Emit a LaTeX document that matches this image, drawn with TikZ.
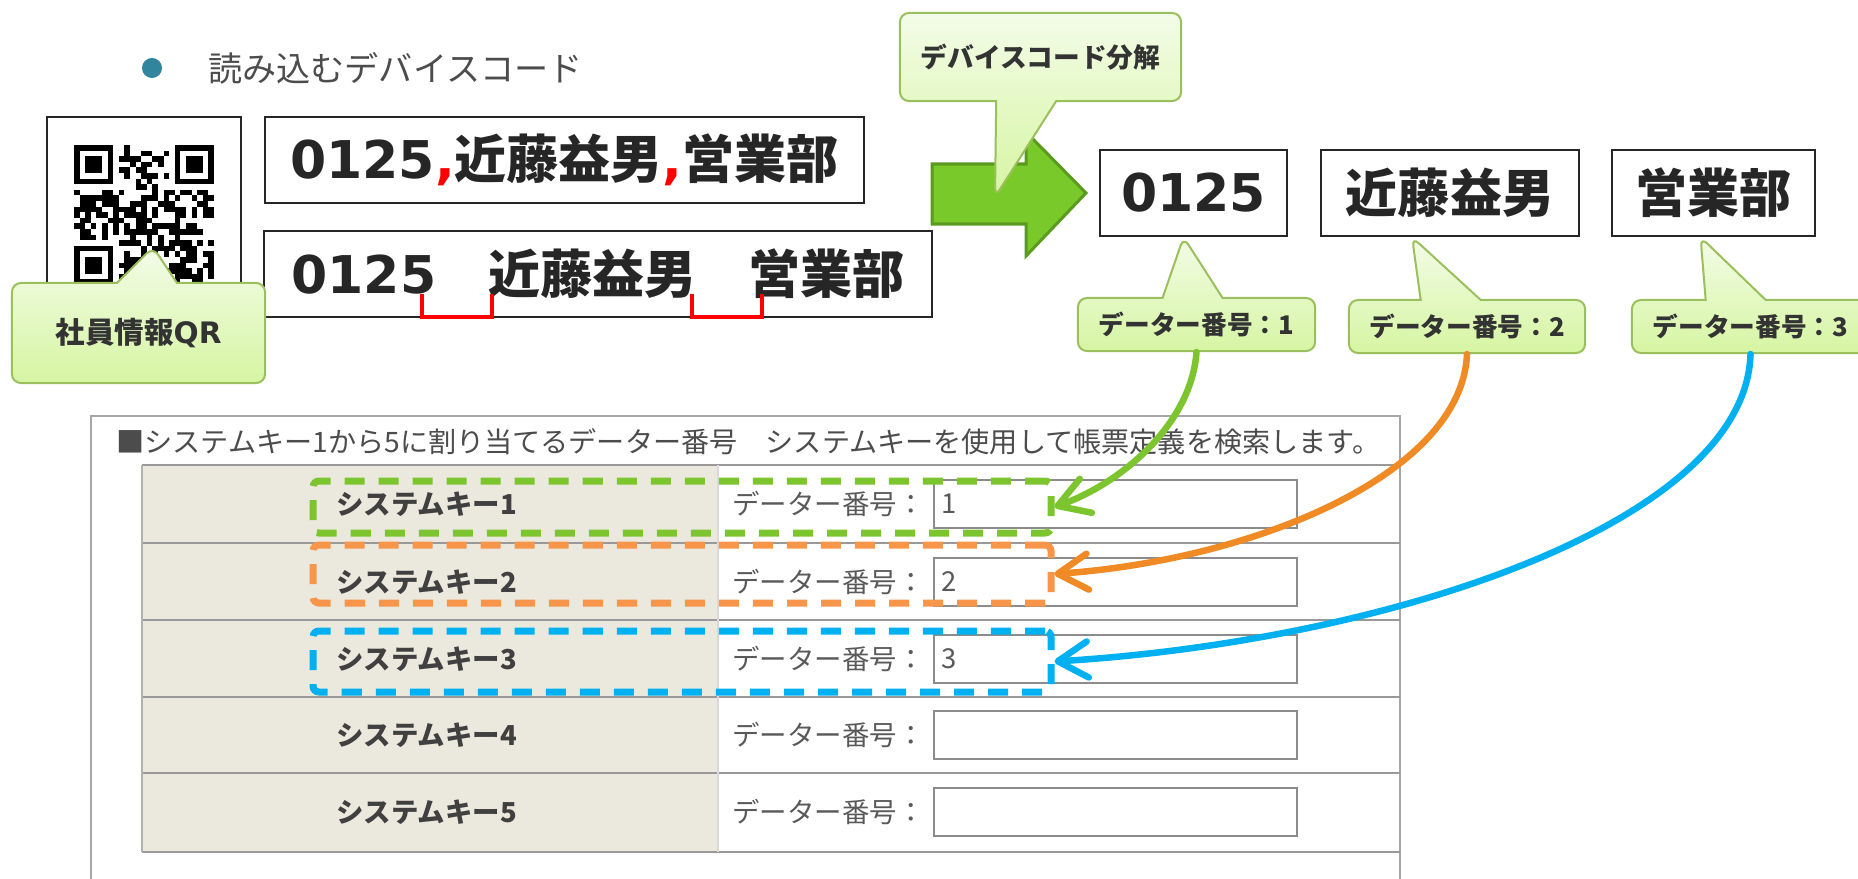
\documentclass[tikz,border=0pt]{standalone}
\usepackage{fontspec}
\setmainfont{Noto Sans CJK JP}
\newfontfamily\numfont{DejaVu Sans}
\usepackage{xcolor}
\usetikzlibrary{shapes.callouts,arrows.meta,positioning,calc,fit}

\definecolor{notetop}{HTML}{F3FCE8}
\definecolor{notebot}{HTML}{D6F5A2}
\definecolor{noteline}{HTML}{9BBF5C}
\definecolor{arrowgreen}{HTML}{7AC92A}
\definecolor{arrowdark}{HTML}{5A9A1E}
\definecolor{keygreen}{HTML}{7DC52E}
\definecolor{keyorange}{HTML}{F7964A}
\definecolor{lineorange}{HTML}{F08A24}
\definecolor{keyblue}{HTML}{00B0F0}
\definecolor{dotblue}{HTML}{31859C}
\definecolor{beige}{HTML}{EBE9DD}

\tikzset{
  bigbox/.style={draw=black!85, line width=0.02cm, minimum height=0.86cm, inner sep=0pt,
    font=\fontsize{14.8}{17}\selectfont\bfseries, text=black!85},
  callnote/.style={rectangle callout, draw=noteline, line width=0.02cm, rounded corners=0.09cm,
    top color=notetop, bottom color=notebot, callout pointer width=0.6cm,
    inner sep=0pt, text=black!80},
  keybox/.style={draw=#1, line width=0.07cm, dash pattern=on 0.2cm off 0.14cm,
    rounded corners=0.06cm, inner sep=0pt},
  link/.style={draw=#1, line width=0.065cm, line cap=round,
    -{Straight Barb[length=0.3cm,width=0.36cm,round]}},
  cell/.style={draw=black!45, line width=0.02cm, fill=white, inner sep=0pt},
  keytext/.style={font=\fontsize{7.8}{9}\selectfont\bfseries, text=black!75},
  labtext/.style={font=\fontsize{7.8}{9}\selectfont, text=black!65},
}

\begin{document}
\begin{tikzpicture}[x=0.01cm,y=-0.01cm]
\useasboundingbox (0,0) rectangle (1858,879);

% title
\fill[dotblue] (152,68) circle (0.1cm);
\node[anchor=west, font=\fontsize{9.7}{12}\selectfont, text=black!70] (title) at (196,68) {読み込むデバイスコード};

% qr code
\draw[draw=black!85, line width=0.02cm] (47,117) rectangle (241,300);
\pgfmathsetseed{11}
\foreach \i in {0,...,24}{
  \foreach \j in {0,...,24}{
    \pgfmathtruncatemacro\on{rnd<0.5}
    \ifnum\on=1
      \fill (74+\i*5.6,145+\j*5.6) rectangle ++(5.6,5.6);
    \fi
  }
}
\foreach \fx/\fy in {0/0,18/0,0/18}{
  \fill[white] (74+\fx*5.6-5.6,145+\fy*5.6-5.6) rectangle ++(50.4,50.4);
  \fill (74+\fx*5.6,145+\fy*5.6) rectangle ++(39.2,39.2);
  \fill[white] (79.6+\fx*5.6,150.6+\fy*5.6) rectangle ++(28,28);
  \fill (85.2+\fx*5.6,156.2+\fy*5.6) rectangle ++(16.8,16.8);
}

% code lines
\node[bigbox, minimum width=5.99cm] (line1) at (564.5,160)
  {{\numfont 0125}{\numfont\color{red},}近藤益男{\numfont\color{red},}営業部};
\node[bigbox, minimum width=6.68cm] (line2) at (598,274)
  {{\numfont 0125}　近藤益男　営業部};
\draw[red, line width=0.035cm] (422,294) -- (422,317) -- (492,317) -- (492,294);
\draw[red, line width=0.035cm] (692,294) -- (692,317) -- (762,317) -- (762,294);

\node[callnote, minimum width=2.53cm, minimum height=1.0cm,
  font=\fontsize{8.4}{10}\selectfont\bfseries,
  callout absolute pointer={(153,247)}] (qrnote) at (138.5,333) {社員情報{\numfont QR}};

% split arrow
\filldraw[fill=arrowgreen, draw=arrowdark, line width=0.03cm]
  (932,164) -- (1026,164) -- (1026,132) -- (1086,193) -- (1026,256) -- (1026,224) -- (932,224) -- cycle;
\node[callnote, minimum width=2.81cm, minimum height=0.88cm,
  font=\fontsize{7.6}{9}\selectfont\bfseries,
  callout absolute pointer={(995,197)}] (splitnote) at (1040.5,57) {デバイスコード分解};

% parts
\node[bigbox, minimum width=1.87cm] (code) at (1193.5,193) {\numfont 0125};
\node[bigbox, minimum width=2.58cm] (name) at (1450,193) {近藤益男};
\node[bigbox, minimum width=2.03cm] (dept) at (1713.5,193) {営業部};

\node[callnote, minimum width=2.37cm, minimum height=0.53cm,
  font=\fontsize{7.3}{9}\selectfont\bfseries,
  callout absolute pointer={($(code.south)+(-10,0)$)}] (no1) at (1196.5,324.5) {データー番号：1};
\node[callnote, minimum width=2.36cm, minimum height=0.53cm,
  font=\fontsize{7.3}{9}\selectfont\bfseries,
  callout absolute pointer={($(name.south)+(-38,0)$)}] (no2) at (1467,326.5) {データー番号：2};
\node[callnote, minimum width=2.37cm, minimum height=0.53cm,
  font=\fontsize{7.3}{9}\selectfont\bfseries,
  callout absolute pointer={($(dept.south)+(-13,0)$)}] (no3) at (1750.5,326.5) {データー番号：3};

% form
\draw[black!35, line width=0.02cm] (91,900) -- (91,416) -- (1400,416) -- (1400,900);
\node[anchor=west, font=\fontsize{8}{10}\selectfont, text=black!70] (formhead) at (104,442)
  {■システムキー1から5に割り当てるデーター番号　システムキーを使用して帳票定義を検索します。};
\fill[beige] (142,465) rectangle (718,852);
\foreach \y in {465,543,620,697,773,852}
  \draw[black!40, line width=0.02cm] (142,\y) -- (1400,\y);
\draw[black!30, line width=0.02cm] (142,465) -- (142,852);
\draw[black!15, line width=0.015cm] (718,465) -- (718,852);
\foreach \n/\y in {1/504,2/582,3/659,4/735,5/812}{
  \node[keytext, anchor=west] (key\n) at (324,\y) {システムキー\n};
  \node[labtext, anchor=west] (lab\n) at (720,\y) {データー番号：};
  \node[cell, minimum width=3.63cm, minimum height=0.48cm, anchor=west] (in\n) at (933,\y) {};
}
\foreach \n in {1,2,3}
  \node[labtext, anchor=west, inner sep=0pt] (val\n) at ([xshift=0.08cm]in\n.west) {\n};

% key frames
\node[keybox=keygreen, fit={(313,481) (1051,533)}] (k1) {};
\node[keybox=keyorange, fit={(313,545) (1051,603)}] (k2) {};
\node[keybox=keyblue, fit={(313,631) (1051,692)}] (k3) {};

% links
\draw[link=keygreen] (no1.south) .. controls +(-5,70) and +(70,-25) .. (k1.east);
\draw[link=lineorange] (no2.south) .. controls +(-5,120) and +(200,-14) .. (k2.east);
\draw[link=keyblue] (no3.south) .. controls +(-5,170) and +(330,-20) .. (k3.east);
\end{tikzpicture}
\end{document}
